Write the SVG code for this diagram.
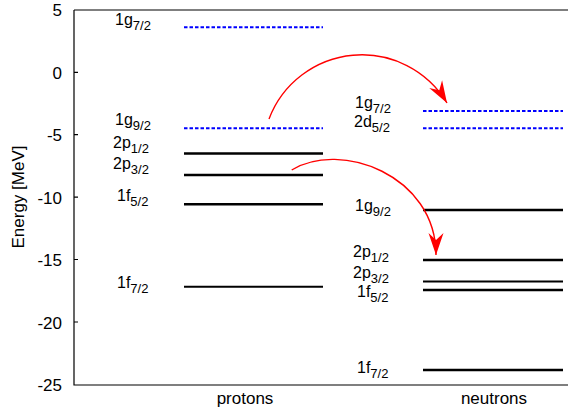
<svg xmlns="http://www.w3.org/2000/svg" width="568" height="417" viewBox="0 0 568 417">
<style>
text{font-family:"Liberation Sans",Arial,Helvetica,sans-serif;fill:#000}
.tick{font-size:17px;text-anchor:end}
.lbl{font-size:16px}
.sub{font-size:13px}
.ax{font-size:17px;text-anchor:middle}
.axis{stroke:#000;stroke-width:1.2;fill:none}
.lv{stroke:#000;stroke-width:2.6;fill:none}
.thin{stroke-width:2}
.dash{stroke:#0000ff;stroke-width:2;stroke-dasharray:3.5,2;fill:none}
.arr{stroke:#ff0000;stroke-width:1.4;fill:none;marker-end:url(#ah)}
</style>
<defs>
<marker id="ah" markerUnits="userSpaceOnUse" viewBox="-25 -10 30 20" markerWidth="30" markerHeight="20" refX="0" refY="0" orient="auto" overflow="visible">
<path d="M0,0 L-22,-7.5 L-15,0 L-22,7.5 Z" fill="#ff0000"/>
</marker>
</defs>
<g id="axes">
<path class="axis" d="M74,10 L568,10 M74,10 L74,385 L568,385"/>
<path class="axis" d="M74,72.3 h4 M74,134.7 h4 M74,197.1 h4 M74,259.5 h4 M74,322 h4"/>
<text class="tick" x="62" y="16">5</text>
<text class="tick" x="62" y="78.5">0</text>
<text class="tick" x="62" y="141">-5</text>
<text class="tick" x="62" y="203.5">-10</text>
<text class="tick" x="62" y="266">-15</text>
<text class="tick" x="62" y="328.5">-20</text>
<text class="tick" x="62" y="391">-25</text>
<text class="ax" transform="translate(24,197) rotate(-90)">Energy [MeV]</text>
<text class="ax" x="245" y="404">protons</text>
<text class="ax" x="494" y="404">neutrons</text>
</g>
<g id="proton-levels">
<g id="p-1g72"><line class="dash" x1="184" y1="27.3" x2="323" y2="27.3"/><text class="lbl" x="115" y="25">1g<tspan class="sub" dy="4.5">7/2</tspan></text></g>
<g id="p-1g92"><line class="dash" x1="184" y1="128.3" x2="323" y2="128.3"/><text class="lbl" x="115" y="125">1g<tspan class="sub" dy="4.5">9/2</tspan></text></g>
<g id="p-2p12"><line class="lv" x1="184" y1="153.5" x2="323" y2="153.5"/><text class="lbl" x="113" y="148">2p<tspan class="sub" dy="4.5">1/2</tspan></text></g>
<g id="p-2p32"><line class="lv" x1="184" y1="175" x2="323" y2="175"/><text class="lbl" x="113" y="169">2p<tspan class="sub" dy="4.5">3/2</tspan></text></g>
<g id="p-1f52"><line class="lv" x1="184" y1="204.3" x2="323" y2="204.3"/><text class="lbl" x="117" y="201">1f<tspan class="sub" dy="4.5">5/2</tspan></text></g>
<g id="p-1f72"><line class="lv thin" x1="184" y1="286.7" x2="323" y2="286.7"/><text class="lbl" x="117" y="288">1f<tspan class="sub" dy="4.5">7/2</tspan></text></g>
</g>
<g id="neutron-levels">
<g id="n-1g72"><line class="dash" x1="423" y1="111" x2="563" y2="111"/><text class="lbl" x="355" y="108">1g<tspan class="sub" dy="4.5">7/2</tspan></text></g>
<g id="n-2d52"><line class="dash" x1="423" y1="128.3" x2="563" y2="128.3"/><text class="lbl" x="354" y="127">2d<tspan class="sub" dy="4.5">5/2</tspan></text></g>
<g id="n-1g92"><line class="lv" x1="423" y1="210" x2="563" y2="210"/><text class="lbl" x="355" y="211">1g<tspan class="sub" dy="4.5">9/2</tspan></text></g>
<g id="n-2p12"><line class="lv" x1="423" y1="260" x2="563" y2="260"/><text class="lbl" x="353" y="257">2p<tspan class="sub" dy="4.5">1/2</tspan></text></g>
<g id="n-2p32"><line class="lv thin" x1="423" y1="281.5" x2="563" y2="281.5"/><text class="lbl" x="353" y="278">2p<tspan class="sub" dy="4.5">3/2</tspan></text></g>
<g id="n-1f52"><line class="lv" x1="423" y1="290" x2="563" y2="290"/><text class="lbl" x="357" y="297">1f<tspan class="sub" dy="4.5">5/2</tspan></text></g>
<g id="n-1f72"><line class="lv" x1="423" y1="370" x2="563" y2="370"/><text class="lbl" x="357" y="373">1f<tspan class="sub" dy="4.5">7/2</tspan></text></g>
</g>
<g id="connectors">
<path class="arr" d="M269,119 A99.3,99.3 0 0,1 447,103"/>
<path class="arr" d="M291.7,170 C340,140 436,175 436,255"/>
</g>
</svg>
